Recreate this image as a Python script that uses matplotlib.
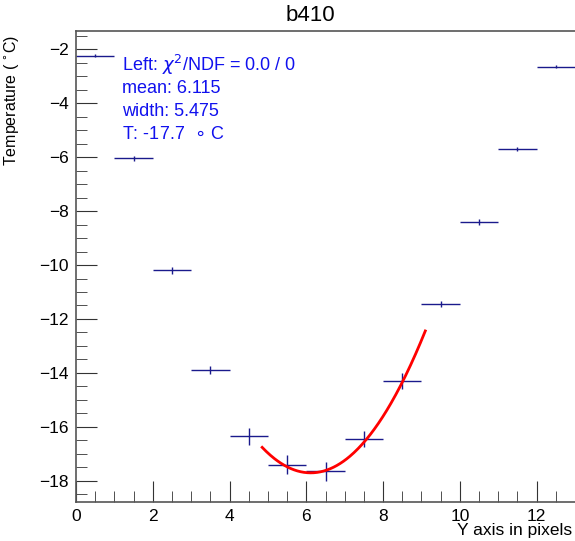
import matplotlib
matplotlib.use('Agg')
import matplotlib.pyplot as plt
from matplotlib.ticker import MultipleLocator
import numpy as np

plt.rcParams['font.family'] = ['Liberation Sans', 'DejaVu Sans']

# bin centres (pixels) and temperatures
pix = [0.5, 1.5, 2.5, 3.5, 4.5, 5.5, 6.5, 7.5, 8.5, 9.5, 10.5, 11.5, 12.5]
temp = [-2.25, -6.05, -10.2, -13.9, -16.35, -17.4, -17.65, -16.45, -14.3, -11.45, -8.4, -5.7, -2.65]
temp_err = [0.05, 0.08, 0.12, 0.15, 0.3, 0.35, 0.35, 0.3, 0.3, 0.1, 0.1, 0.08, 0.05]
pix_err = [0.5] * len(pix)

# fit result (parabola around the minimum)
fit_mean = 6.115
fit_T = -17.7
fit_curv = 0.59
fit_lo, fit_hi = 4.85, 9.1

fig = plt.figure(figsize=(5.75, 5.41), dpi=100)
ax = fig.add_axes([0.1322, 0.0721, 0.8678, 0.8706])

ax.errorbar(pix, temp, xerr=pix_err, yerr=temp_err, fmt='none',
            ecolor='#1a1a8c', elinewidth=1.0, capsize=0)

xf = np.linspace(fit_lo, fit_hi, 200)
ax.plot(xf, fit_T + fit_curv * (xf - fit_mean) ** 2, color='red', lw=2)

ax.set_xlim(0, 13)
ax.set_ylim(-18.78, -1.33)
ax.xaxis.set_major_locator(MultipleLocator(2))
ax.xaxis.set_minor_locator(MultipleLocator(0.5))
ax.yaxis.set_major_locator(MultipleLocator(2))
ax.yaxis.set_minor_locator(MultipleLocator(0.5))
ax.tick_params(which='both', direction='in', top=False, right=False, labelsize=12.5, color='#333333')
ax.tick_params(which='major', length=15, pad=5)
ax.tick_params(which='minor', length=8)
ax.spines['right'].set_visible(False)
for s in ['left', 'bottom', 'top']:
    ax.spines[s].set_color('#555555')
    ax.spines[s].set_linewidth(1.2)

fig.text(0.54, 0.99, 'b410', ha='center', va='top', fontsize=16)
fig.text(0.003, 0.815, 'Temperature ( $^{\\circ}$C)', rotation=90, ha='left', va='center', fontsize=11.5)
fig.text(0.995, 0.005, 'Y axis in pixels', ha='right', va='bottom', fontsize=12.5)

lines = ['Left: $\\chi^2$/NDF = 0.0 / 0', 'mean: 6.115', 'width: 5.475', 'T: -17.7  $\\circ$ C']
for i, s in enumerate(lines):
    ax.text(1.2, -2.6 - i * 0.85, s, color='#1111ee', fontsize=13, va='center')

fig.savefig('out.png')
